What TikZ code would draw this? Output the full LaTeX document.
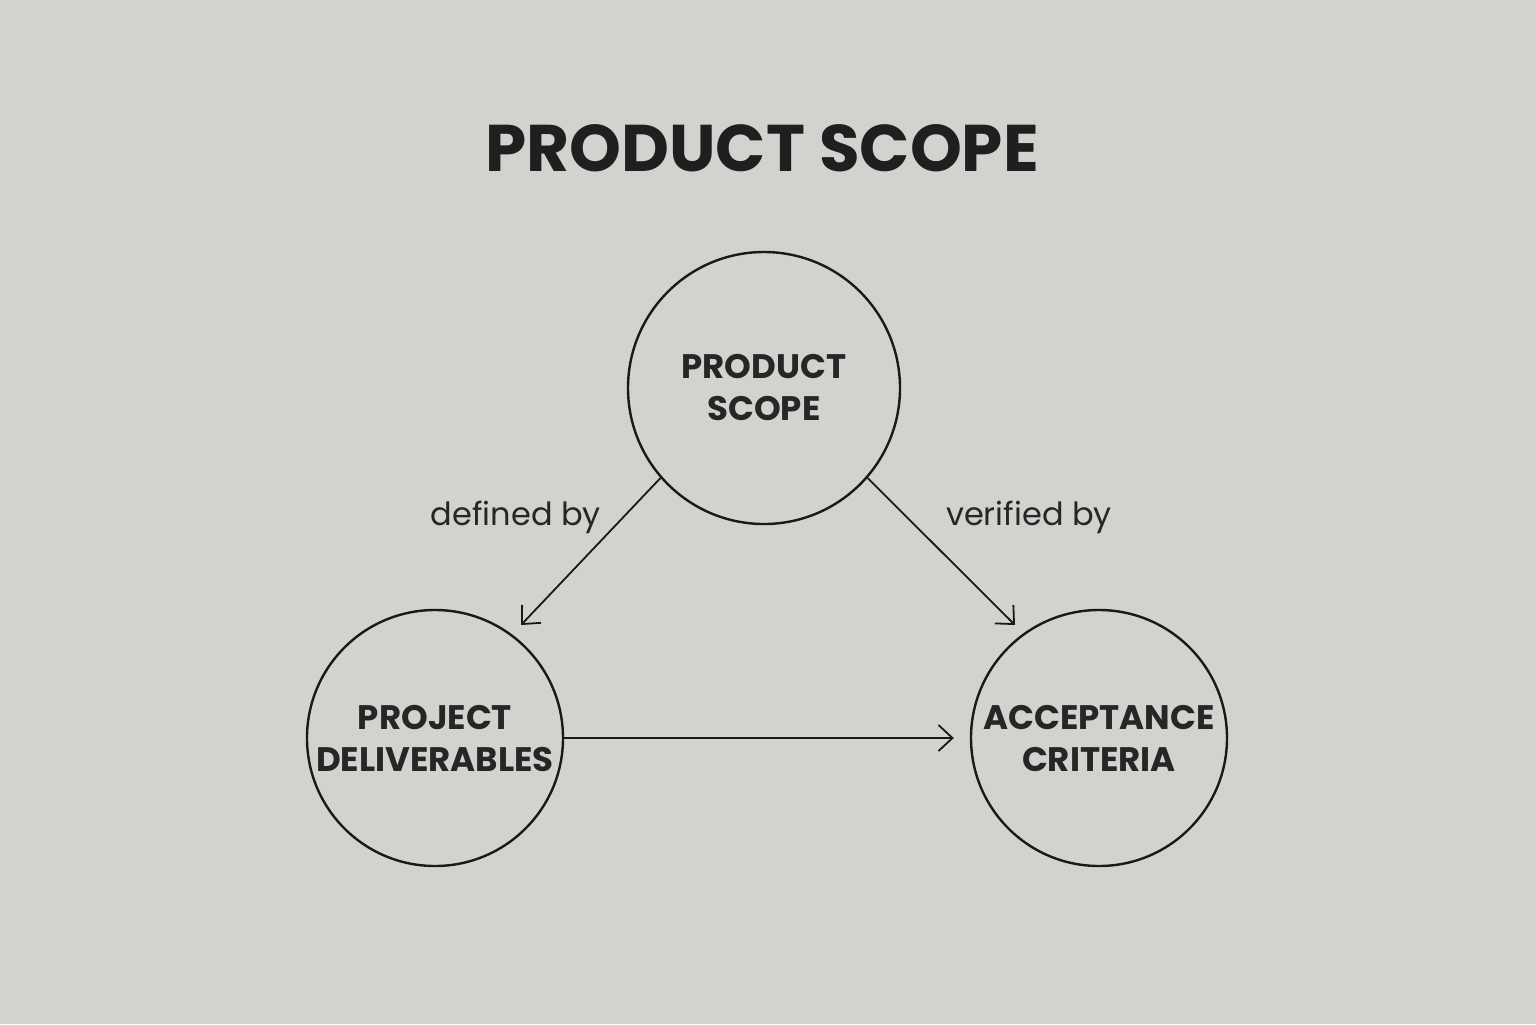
\documentclass[tikz,border=0pt]{standalone}
\usepackage{fontspec}
\setmainfont{Poppins}
\usetikzlibrary{arrows.meta}
\begin{document}
\begin{tikzpicture}[x=0.5pt,y=-0.5pt,
  circ/.style={circle,draw=black!90,line width=1.2pt,align=center,inner sep=0pt,font=\fontsize{17}{21}\selectfont\bfseries, text=black!85},
  conn/.style={line width=0.9pt,draw=black!90,-{Straight Barb[length=7pt,width=13pt,line width=0.9pt]}},
  lbl/.style={font=\fontsize{16}{19}\selectfont,text=black!85}]
\fill[white!97!yellow!60!gray] (0,0) rectangle (1536,1024);
\useasboundingbox (0,0) rectangle (1536,1024);
\node[font=\fontsize{33}{38}\selectfont\bfseries,text=black!88] (title) at (762,148) {PRODUCT SCOPE};
\node[circ,minimum size=136pt] (ps) at (764,388) {PRODUCT\\SCOPE};
\node[circ,minimum size=128pt] (pd) at (435,738) {PROJECT\\DELIVERABLES};
\node[circ,minimum size=128pt] (ac) at (1099,738) {ACCEPTANCE\\CRITERIA};
\coordinate (t1) at (521,625);
\coordinate (t2) at (1015,625);
\draw[conn] (ps.221) -- (t1);
\draw[conn] (ps.319) -- (t2);
\draw[conn,shorten >=8pt] (pd.east) -- (ac.west);
\node[lbl] (l1) at (516,517) {defined by};
\node[lbl] (l2) at (1029,517) {verified by};
\end{tikzpicture}
\end{document}
